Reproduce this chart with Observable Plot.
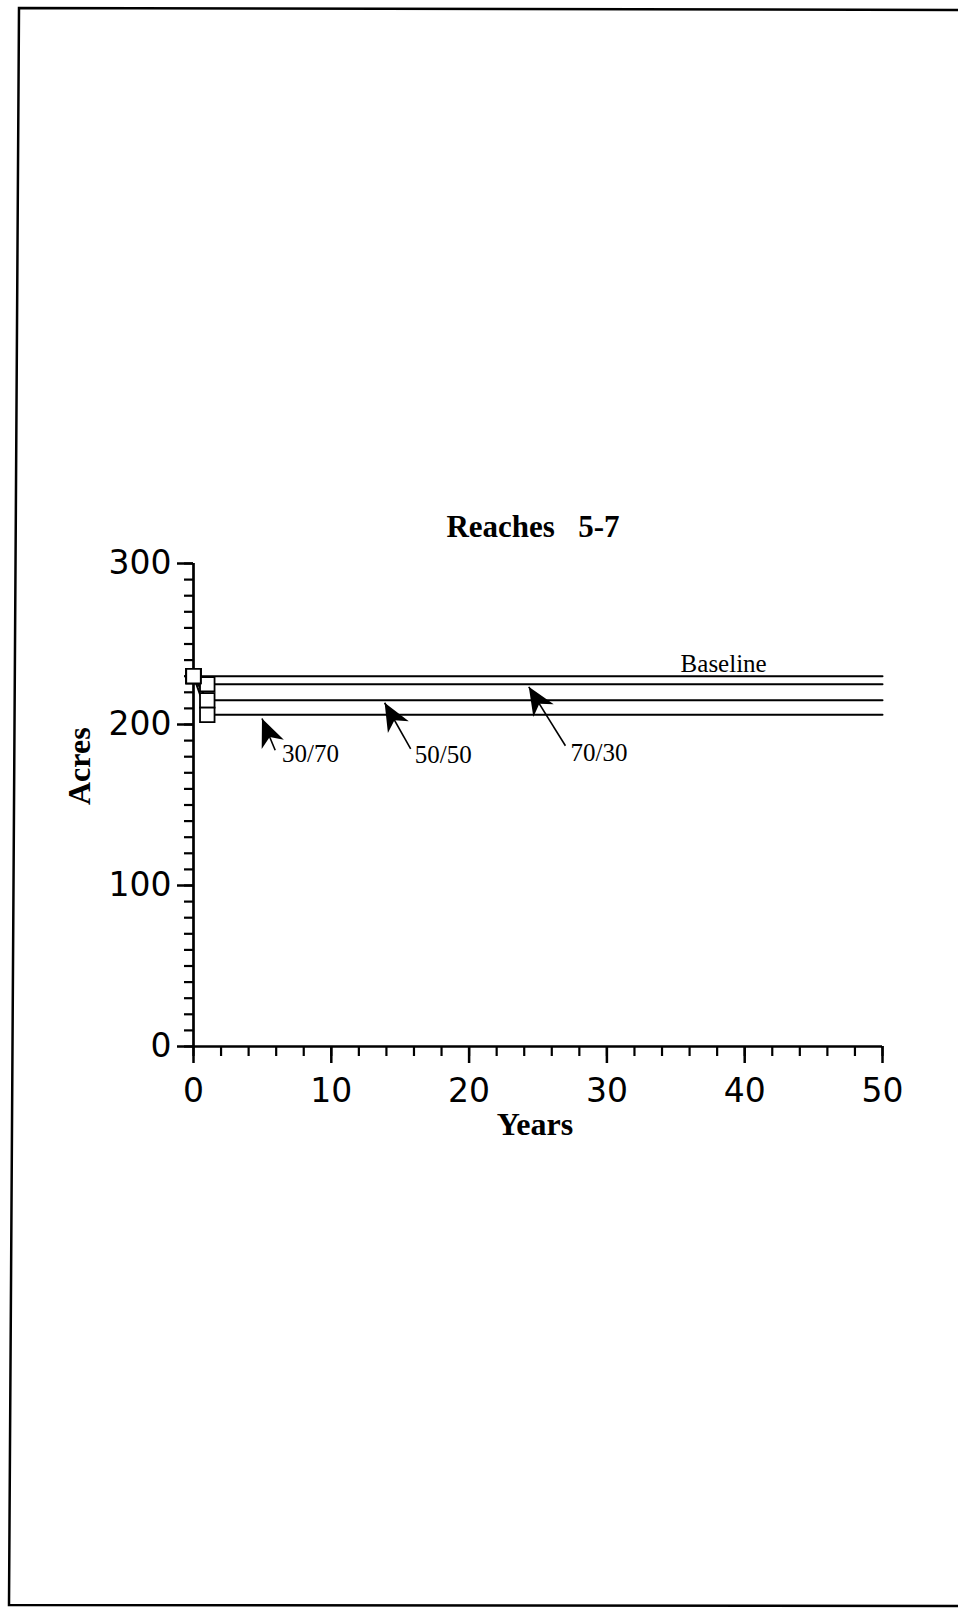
<!DOCTYPE html>
<html><head><meta charset="utf-8">
<script src="https://cdn.jsdelivr.net/npm/d3@7"></script>
<script src="https://cdn.jsdelivr.net/npm/@observablehq/plot@0.6"></script>
<style>
html,body{margin:0;padding:0;background:#fff;}
body{width:958px;height:1608px;position:relative;overflow:hidden;}
#frame{position:absolute;left:0;top:0;z-index:2;pointer-events:none;}
#title{position:absolute;left:333px;width:400px;top:511px;text-align:center;font:bold 31px "Liberation Serif","Times New Roman",serif;line-height:31px;white-space:pre;color:#000;}
#chart{position:absolute;left:0;top:545px;z-index:1;}
</style></head><body>
<div id="title">Reaches   5-7</div>
<div id="chart"></div>
<svg id="frame" width="958" height="1608"><polyline points="958,10 19,8 9,1605 958,1606" fill="none" stroke="#000" stroke-width="2.5"/></svg>
<script>
// ---- data ----
const years = [0, 1, 50];
const seriesNames = ["Baseline", "70/30", "50/50", "30/70"];
const baselineAcres = [230, 230, 230];
const acres7030 = [230, 225, 225];
const acres5050 = [230, 215, 215];
const acres3070 = [230, 206, 206];
const xMajorTicks = [0, 10, 20, 30, 40, 50];
const yMajorTicks = [0, 100, 200, 300];
const labelText = ["Baseline", "30/70", "50/50", "70/30"];
const labelYear = [35.35, 6.42, 16.06, 27.36];
const labelAcres = [232.8, 176.4, 176.2, 177.5];
const arrowTipYear = [4.97, 13.87, 24.33];
const arrowTipAcres = [203.7, 213.5, 223.4];
const arrowTailYear = [5.93, 15.76, 26.99];
const arrowTailAcres = [184.0, 184.8, 186.8];

const seriesValues = [baselineAcres, acres7030, acres5050, acres3070];
const rows = [];
seriesNames.forEach((s, i) => years.forEach((yr, j) => rows.push({series: s, year: yr, acres: seriesValues[i][j]})));
const dots = rows.filter(d => d.year === 0 || (d.year === 1 && d.series !== "Baseline"));
const labels = labelText.map((t, i) => ({text: t, year: labelYear[i], acres: labelAcres[i]}));
const arrows = arrowTipYear.map((_, i) => ({x1: arrowTailYear[i], y1: arrowTailAcres[i], x2: arrowTipYear[i], y2: arrowTipAcres[i]}));

const chart = Plot.plot({
  width: 958, height: 620,
  marginLeft: 193, marginRight: 76, marginTop: 18, marginBottom: 119,
  x: {domain: [0, 50]},
  y: {domain: [0, 300]},
  style: {background: "transparent", color: "black", overflow: "visible"},
  marks: [
    Plot.axisY(d3.range(0, 301, 10), {tickSize: 9, strokeWidth: 2.2, tickFormat: () => "", label: null}),
    Plot.axisY(yMajorTicks, {tickSize: 16, tickPadding: 6, strokeWidth: 2.5, fontSize: 33, fontFamily: "DejaVu Sans", label: null}),
    Plot.axisX(d3.range(0, 51, 2), {tickSize: 10, strokeWidth: 2.2, tickFormat: () => "", label: null}),
    Plot.axisX(xMajorTicks, {tickSize: 17, tickPadding: 15, strokeWidth: 2.5, fontSize: 33, fontFamily: "DejaVu Sans", label: null}),
    Plot.ruleX([0], {y1: 0, y2: 300, strokeWidth: 2.7}),
    Plot.ruleY([0], {x1: 0, x2: 50, strokeWidth: 2.7}),
    Plot.line(rows, {x: "year", y: "acres", z: "series", stroke: "black", strokeWidth: 2}),
    Plot.dot(dots, {x: "year", y: "acres", symbol: "square", r: 8.2, fill: "white", stroke: "black", strokeWidth: 1.8}),
    Plot.link(arrows, {x1: "x1", y1: "y1", x2: "x2", y2: "y2", stroke: "black", strokeWidth: 1.6, markerEnd: "arrow"}),
    Plot.text(labels, {x: "year", y: "acres", text: "text", textAnchor: "start", lineAnchor: "bottom", fontSize: 25, fontFamily: "Liberation Serif", fill: "black"}),
    Plot.text(["Acres"], {text: d => d, frameAnchor: "left", dx: -104, rotate: -90, lineAnchor: "bottom", fontSize: 32, fontWeight: "bold", fontFamily: "Liberation Serif", fill: "black"}),
    Plot.text(["Years"], {text: d => d, frameAnchor: "bottom", dx: -3, dy: 88, lineAnchor: "bottom", fontSize: 32, fontWeight: "bold", fontFamily: "Liberation Serif", fill: "black"})
  ]
});

// filled arrowheads
chart.querySelectorAll("marker").forEach(m => {
  m.setAttribute("viewBox", "-30 -14 32 28");
  m.setAttribute("markerWidth", "32");
  m.setAttribute("markerHeight", "28");
  m.setAttribute("markerUnits", "userSpaceOnUse");
  m.setAttribute("refX", "0");
  m.setAttribute("refY", "0");
  m.setAttribute("orient", "auto");
  while (m.firstChild) m.removeChild(m.firstChild);
  const p = document.createElementNS("http://www.w3.org/2000/svg", "path");
  p.setAttribute("d", "M0,0L-28,-12L-20,0L-28,12Z");
  p.setAttribute("fill", "black");
  p.setAttribute("stroke", "none");
  m.appendChild(p);
});
document.getElementById("chart").appendChild(chart);
</script>
</body></html>
